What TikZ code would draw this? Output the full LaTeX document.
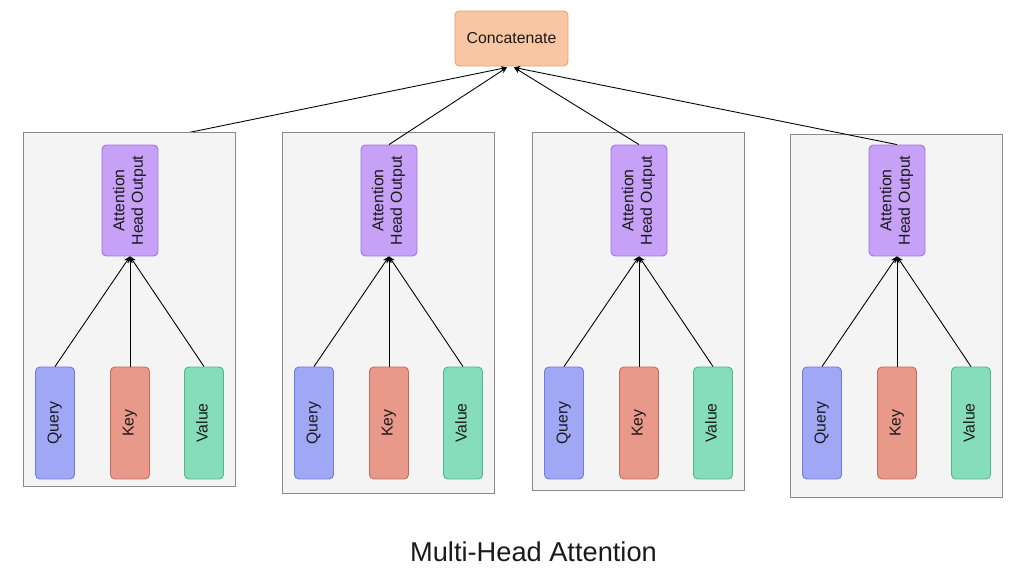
\documentclass[tikz,border=0pt]{standalone}
\usepackage{fontspec}
\setmainfont{Liberation Sans}
\usetikzlibrary{arrows.meta,backgrounds}
\pgfdeclarelayer{bottom}
\pgfsetlayers{bottom,background,main}
\definecolor{concatfill}{HTML}{F8C6A2}
\definecolor{concatline}{HTML}{DDA06E}
\definecolor{attfill}{HTML}{C7A0F7}
\definecolor{attline}{HTML}{A070E3}
\definecolor{queryfill}{HTML}{A0A8F5}
\definecolor{queryline}{HTML}{6C7BE0}
\definecolor{keyfill}{HTML}{E8998A}
\definecolor{keyline}{HTML}{C46B5B}
\definecolor{valuefill}{HTML}{86DDBB}
\definecolor{valueline}{HTML}{4FB88A}
\definecolor{panelfill}{HTML}{F4F4F4}
\definecolor{panelline}{HTML}{8A8A8A}
\definecolor{inktext}{HTML}{1A1A1A}
\newcommand{\vtext}[1]{\rotatebox{90}{\begin{tabular}{@{}c@{}}#1\end{tabular}}}
\begin{document}
\begin{tikzpicture}[x=0.02cm, y=-0.02cm,
    every node/.style={font=\fontsize{9}{10.5}\selectfont, text=inktext},
    box/.style={draw, rounded corners=2.5pt, line width=0.5pt, inner sep=0pt},
    attbox/.style={box, fill=attfill, draw=attline, minimum width=1.12cm, minimum height=2.22cm},
    inbox/.style={box, minimum width=0.78cm, minimum height=2.24cm},
    panel/.style={draw=panelline, fill=panelfill, line width=0.5pt, minimum width=4.24cm, inner sep=0pt},
    arr/.style={-{Stealth[length=3.6pt,width=3.2pt]}, line width=0.5pt, draw=black}]
  \useasboundingbox (0,0) rectangle (1024,571);
  \node[box, fill=concatfill, draw=concatline, minimum width=2.26cm, minimum height=1.1cm]
    (concat) at (511.5,38.5) {Concatenate};
  \coordinate (inL) at ([xshift=-0.09cm, yshift=-0.02cm]concat.south);
  \coordinate (inR) at ([xshift=0.05cm, yshift=-0.02cm]concat.south);
  \foreach \i/\px/\pt/\pb in {1/23/132/486, 2/282/132/493, 3/532/132/490, 4/790/134/497} {
    \node[attbox] (att\i) at (\px+107,200.5) {\vtext{Attention\\Head Output}};
    \node[inbox, fill=queryfill, draw=queryline] (q\i) at (\px+32,423) {\vtext{Query}};
    \node[inbox, fill=keyfill, draw=keyline] (k\i) at (\px+107,423) {\vtext{Key}};
    \node[inbox, fill=valuefill, draw=valueline] (v\i) at (\px+181,423) {\vtext{Value}};
    \foreach \n in {q,k,v}
      \draw[arr] (\n\i.north) -- (att\i.south);
    \begin{scope}[on background layer]
      \node[panel, minimum height=(\pb-\pt)*0.02cm] (panel\i) at (\px+106,{(\pt+\pb)/2}) {};
    \end{scope}
  }
  \begin{pgfonlayer}{bottom}
    \draw[arr] (att1.north) -- (inL);
  \end{pgfonlayer}
  \draw[arr] (att2.north) -- (inL);
  \draw[arr] (att3.north) -- (inR);
  \draw[arr] (att4.north) -- (inR);
  \node (title) at (533.5,552) {\fontsize{15.5}{18}\selectfont Multi-Head Attention};
\end{tikzpicture}
\end{document}
